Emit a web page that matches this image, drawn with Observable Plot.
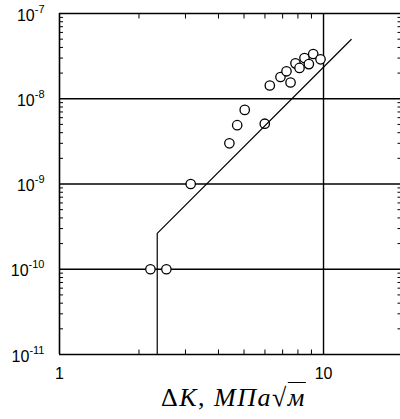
<!DOCTYPE html>
<html><head><meta charset="utf-8">
<script src="https://cdn.jsdelivr.net/npm/d3@7"></script>
<script src="https://cdn.jsdelivr.net/npm/@observablehq/plot@0.6"></script>
<style>
html,body{margin:0;padding:0;background:#fff;}
#wrap{position:relative;width:400px;height:419px;overflow:hidden;background:#fff;}
#wrap svg{position:absolute;left:0;top:0;}
#xlabel{position:absolute;left:161px;top:385px;font-family:"Liberation Serif","Times New Roman",serif;font-size:26px;line-height:26px;white-space:nowrap;color:#000;letter-spacing:1.5px;}
#xlabel i{font-style:italic;}
.rad{text-decoration:overline;text-decoration-thickness:1px;}
</style></head><body><div id="wrap"></div>
<script>
// measured points: stress intensity factor range and crack growth rate
const deltaK = [2.21, 2.54, 3.14, 4.40, 4.71, 5.03, 5.99, 6.26, 6.87, 7.24, 7.50, 7.83, 8.11, 8.47, 8.80, 9.14, 9.74];
const growthRate = [1.0e-10, 1.0e-10, 1.0e-9, 3.0e-9, 4.9e-9, 7.4e-9, 5.1e-9, 1.43e-8, 1.8e-8, 2.1e-8, 1.55e-8, 2.6e-8, 2.3e-8, 3.0e-8, 2.55e-8, 3.35e-8, 2.9e-8];
// fitted curve (threshold + Paris line)
const fitK = [2.345, 2.345, 12.73];
const fitRate = [1e-11, 2.64e-10, 4.96e-8];
// ticks
const xLabelTicks = [1, 10];
const xMinorTicks = [2, 3, 4, 5, 6, 7, 8, 9];
const xGrid = [10];
const yDecades = [1e-11, 1e-10, 1e-9, 1e-8, 1e-7];
const yGrid = [1e-10, 1e-9, 1e-8];
const yMinorMultipliers = [2, 3, 4, 5, 6, 7, 8, 9];
const yMinorTicks = yDecades.slice(0, -1).flatMap(d => yMinorMultipliers.map(m => m * d));

const points = deltaK.map((k, i) => ({k, r: growthRate[i]}));
const fit = fitK.map((k, i) => ({k, r: fitRate[i]}));
const blank = () => "";
const font = "'Liberation Sans', Arial, sans-serif";

const chart = Plot.plot({
  width: 400, height: 385,
  marginLeft: 59, marginTop: 13, marginBottom: 31, marginRight: 0,
  x: {type: "log", domain: [1, 20], range: [59, 402.5], label: null},
  y: {type: "log", domain: [1e-11, 1e-7], label: null},
  style: {fontFamily: font, fontSize: "16px", color: "#000", background: "#fff"},
  marks: [
    Plot.ruleY(yGrid, {stroke: "#000", strokeWidth: 1.4}),
    Plot.ruleX(xGrid, {stroke: "#000", strokeWidth: 1.4}),
    Plot.ruleY([1e-11, 1e-7], {stroke: "#000", strokeWidth: 1.6}),
    Plot.ruleX([1, 20], {stroke: "#000", strokeWidth: 1.6}),
    Plot.axisY(yMinorTicks, {anchor: "left", tickSize: -4, tickFormat: blank, stroke: "#000"}),
    Plot.axisY(yMinorTicks, {anchor: "right", tickSize: -3.5, tickFormat: blank, stroke: "#000"}),
    Plot.axisX(xMinorTicks, {anchor: "bottom", tickSize: -4.5, tickFormat: blank, stroke: "#000"}),
    Plot.axisX(xMinorTicks, {anchor: "top", tickSize: -4.5, tickFormat: blank, stroke: "#000"}),
    Plot.axisY(yDecades, {anchor: "left", tickSize: 0, tickPadding: 15, dy: 2, fill: "#000",
      fontSize: 16, fontFamily: font,
      tickFormat: d => "10^" + Math.round(Math.log10(d))}),
    Plot.axisX(xLabelTicks, {anchor: "bottom", tickSize: 0, tickPadding: 13, fill: "#000",
      fontSize: 16, fontFamily: font,
      tickFormat: d => String(d)}),
    Plot.dot(points, {x: "k", y: "r", r: 4.7, stroke: "#000", fill: "#fff", strokeWidth: 1.3}),
    Plot.line(fit, {x: "k", y: "r", stroke: "#000", strokeWidth: 1.2, curve: "linear"})
  ]
});

// render exponents as superscripts; enforce tick label font
d3.select(chart).selectAll("text").each(function() {
  const t = this.textContent;
  this.setAttribute("font-size", 16);
  this.style.fontFamily = font;
  if (t.startsWith("10^")) {
    const exp = t.slice(3);
    this.textContent = "10";
    d3.select(this).append("tspan").attr("font-size", 11).attr("dy", -8).text(exp);
  }
});

const wrap = document.getElementById("wrap");
wrap.appendChild(chart);
const lab = document.createElement("div");
lab.id = "xlabel";
lab.innerHTML = 'Δ<i>K</i>, <i>МПа</i>√<span class="rad"><i>м</i></span>';
wrap.appendChild(lab);
</script>
</body></html>
